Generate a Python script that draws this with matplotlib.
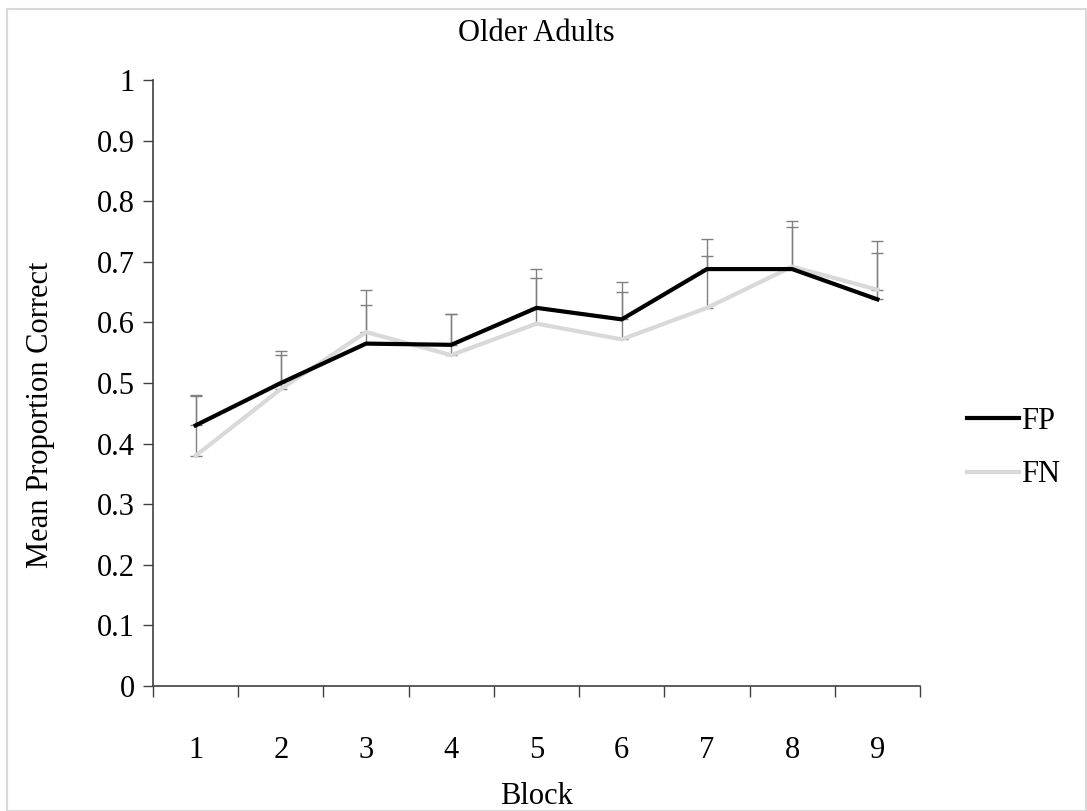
import matplotlib
matplotlib.use('Agg')
import matplotlib.pyplot as plt
from matplotlib.patches import Rectangle

plt.rcParams['font.family'] = ['Liberation Serif', 'DejaVu Serif']

blocks = [1, 2, 3, 4, 5, 6, 7, 8, 9]
fp_mean = [0.430, 0.500, 0.565, 0.563, 0.624, 0.605, 0.688, 0.688, 0.638]
fn_mean = [0.380, 0.490, 0.584, 0.546, 0.598, 0.572, 0.624, 0.692, 0.654]
fp_se = [0.051, 0.053, 0.088, 0.051, 0.064, 0.061, 0.049, 0.080, 0.096]
fn_se = [0.098, 0.057, 0.045, 0.068, 0.075, 0.078, 0.086, 0.065, 0.061]

W, H = 1087, 811
fig = plt.figure(figsize=(W / 100, H / 100), dpi=100)
ax = fig.add_axes([153 / W, 1 - 686 / H, (920 - 153) / W, (686 - 80) / H])

# upper error bars only
err_color = '#808080'
ax.errorbar(blocks, fp_mean, yerr=[[0] * 9, fp_se], fmt='none', ecolor=err_color,
            elinewidth=1, capsize=4.3, capthick=1, zorder=1)
ax.errorbar(blocks, fn_mean, yerr=[[0] * 9, fn_se], fmt='none', ecolor=err_color,
            elinewidth=1, capsize=4.3, capthick=1, zorder=1)

ax.plot(blocks, fn_mean, color='#d9d9d9', lw=3, label='FN', zorder=2,
        solid_joinstyle='miter')
ax.plot(blocks, fp_mean, color='black', lw=3, label='FP', zorder=3,
        solid_joinstyle='miter')

ax.set_xlim(0.5, 9.5)
ax.set_ylim(0, 1)
ax.set_yticks([i / 10 for i in range(11)])
ax.set_yticklabels(['0', '0.1', '0.2', '0.3', '0.4', '0.5', '0.6', '0.7', '0.8', '0.9', '1'])

# category axis: ticks between blocks, labels at block centres
ax.set_xticks([b + 0.5 for b in [0] + blocks])
ax.set_xticklabels([])
ax.set_xticks(blocks, minor=True)
ax.set_xticklabels([str(b) for b in blocks], minor=True)
ax.tick_params(axis='x', which='major', length=8, width=1, color='#404040', direction='out')
ax.tick_params(axis='x', which='minor', length=0, pad=36, labelsize=22)
ax.tick_params(axis='y', length=7, width=1, color='#404040', direction='out',
               pad=6, labelsize=22)

for side in ['top', 'right']:
    ax.spines[side].set_visible(False)
for side in ['left', 'bottom']:
    ax.spines[side].set_color('#404040')
    ax.spines[side].set_linewidth(1.2)

ax.set_title('Older Adults', fontsize=22, pad=28)
ax.set_xlabel('Block', fontsize=22, labelpad=12)
ax.set_ylabel('Mean Proportion Correct', fontsize=22)
ax.yaxis.set_label_coords(-0.128, 0.447)

handles, labels = ax.get_legend_handles_labels()
fig.legend(handles[::-1], labels[::-1], loc='center left', frameon=False,
           fontsize=22, handlelength=1.73, handletextpad=0.05, labelspacing=0.8,
           bbox_to_anchor=(939 / W, 1 - 448 / H), bbox_transform=fig.transFigure)

fig.patches.append(Rectangle((7 / W, 0), 1079 / W, 1 - 9 / H,
                             transform=fig.transFigure, fill=False,
                             edgecolor='#d9d9d9', lw=1.5))

fig.savefig('out.png', dpi=100)
plt.close(fig)
